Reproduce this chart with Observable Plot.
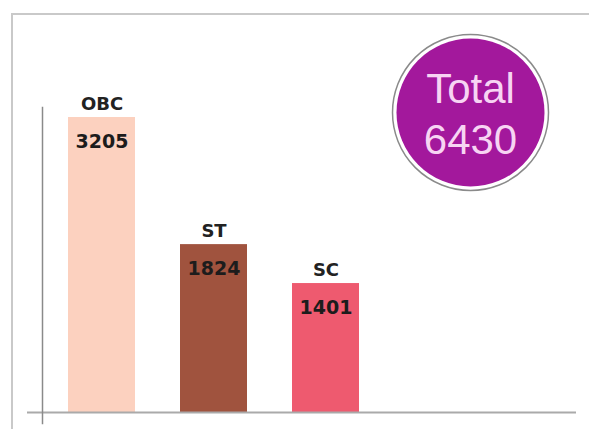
<!DOCTYPE html>
<html><head><meta charset="utf-8">
<script src="https://cdn.jsdelivr.net/npm/d3@7"></script>
<script src="https://cdn.jsdelivr.net/npm/@observablehq/plot@0.6"></script>
<style>
html,body{margin:0;padding:0;background:#fff;}
#wrap{position:relative;width:589px;height:429px;overflow:hidden;}
#wrap svg{position:absolute;left:0;top:0;}
#border{position:absolute;left:11px;top:13px;width:700px;height:600px;border-left:2px solid #c9c9c9;border-top:2px solid #c9c9c9;}
</style></head><body><div id="wrap"><div id="border"></div></div>
<script>
const categories = ["OBC", "ST", "SC"];
const values = [3205, 1824, 1401];
const colors = ["#fcd1bf", "#a0533e", "#ee5a6f"];
const totalLabel = "Total";
const total = 6430;

const data = categories.map((c, i) => ({category: c, value: values[i]}));

const chart = Plot.plot({
  width: 589, height: 429,
  marginLeft: 42, marginRight: 13, marginTop: 107, marginBottom: 6,
  style: {background: "transparent"},
  x: {domain: categories, range: [22, 406], padding: 0.4, axis: null},
  y: {domain: [0, d3.max(values)], range: [412, 117], axis: null},
  color: {domain: categories, range: colors},
  marks: [
    Plot.barY(data, {x: "category", y: "value", fill: "category"}),
    Plot.ruleY([0], {stroke: "#aaaaaa", strokeWidth: 2, insetLeft: -15}),
    Plot.frame({anchor: "left", stroke: "#8a8a8a", strokeWidth: 1.5}),
    Plot.text(data, {x: "category", y: "value", text: "category", lineAnchor: "bottom", textAnchor: "middle",
      dy: -8, fontSize: 18, fontWeight: "bold", fontFamily: "DejaVu Sans", fill: "#222", letterSpacing: 1}),
    Plot.text(data, {x: "category", y: "value", text: d => String(d.value), lineAnchor: "bottom", textAnchor: "middle",
      dy: 30, fontSize: 19, fontWeight: "bold", fontFamily: "DejaVu Sans", fill: "#1c1c1c"}),
    Plot.dot([total], {frameAnchor: "top-right", dx: -106, dy: 5, r: 78, fill: "white", stroke: "#8a8a8a", strokeWidth: 1.5}),
    Plot.dot([total], {frameAnchor: "top-right", dx: -106, dy: 5, r: 74, fill: "#a3189c"}),
    Plot.text([totalLabel], {frameAnchor: "top-right", dx: -106, dy: -5, text: d => d, textAnchor: "middle", lineAnchor: "bottom",
      fontSize: 42, fontFamily: "Liberation Sans", fill: "#f7d4f3"}),
    Plot.text([total], {frameAnchor: "top-right", dx: -106, dy: 46, text: d => String(d), textAnchor: "middle", lineAnchor: "bottom",
      fontSize: 42, fontFamily: "Liberation Sans", fill: "#f7d4f3"})
  ]
});
document.getElementById("wrap").appendChild(chart);
</script>
</body></html>
